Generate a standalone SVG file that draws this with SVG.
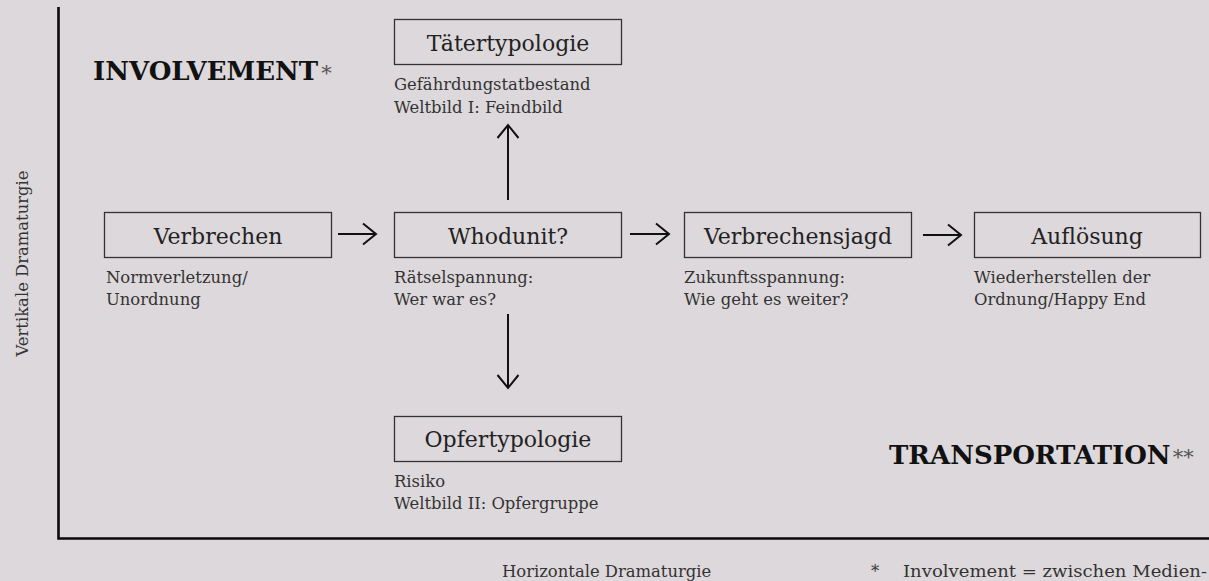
<svg xmlns="http://www.w3.org/2000/svg" width="1209" height="581" viewBox="0 0 1209 581">
<defs>
<style>
.box{fill:none;stroke:#333;stroke-width:1.3}
.lbl{font-family:"DejaVu Serif","Liberation Serif",serif;font-size:22px;fill:#222;text-anchor:middle}
.sub{font-family:"DejaVu Serif","Liberation Serif",serif;font-size:16.4px;fill:#333}
.big{font-family:"DejaVu Serif","Liberation Serif",serif;font-size:26px;font-weight:bold;fill:#111}
.ast{font-family:"DejaVu Serif","Liberation Serif",serif;font-size:21px;fill:#555}
.con{fill:none;stroke:#111;stroke-width:2}
.axis{fill:none;stroke:#0a0a0a;stroke-width:2.6}
</style>
<marker id="arr" markerUnits="userSpaceOnUse" viewBox="-15 -12 17 24" markerWidth="17" markerHeight="24" refX="0" refY="0" orient="auto">
<path d="M-13,-10.5 L0,0 L-13,10.5" fill="none" stroke="#111" stroke-width="2" stroke-linejoin="miter"/>
</marker>
</defs>
<rect width="1209" height="581" fill="#ddd8db"/>
<path class="axis" d="M58.5,7 V538.5 H1209"/>
<text class="sub" transform="translate(28,263.5) rotate(-90)" text-anchor="middle">Vertikale Dramaturgie</text>
<text class="sub" x="502" y="577">Horizontale Dramaturgie</text>
<text class="sub" x="871" y="577">*</text>
<text class="sub" x="903" y="577" textLength="304" lengthAdjust="spacingAndGlyphs">Involvement = zwischen Medien-</text>
<text x="93" y="80"><tspan class="big">INVOLVEMENT</tspan><tspan class="ast" dx="3">*</tspan></text>
<text x="889" y="464"><tspan class="big">TRANSPORTATION</tspan><tspan class="ast" dx="2">**</tspan></text>
<g id="connectors">
<path class="con" d="M338,234 H376" marker-end="url(#arr)"/>
<path class="con" d="M630,234 H669" marker-end="url(#arr)"/>
<path class="con" d="M923,235 H961" marker-end="url(#arr)"/>
<path class="con" d="M508,200 V125" marker-end="url(#arr)"/>
<path class="con" d="M508,314 V388" marker-end="url(#arr)"/>
</g>
<g id="taetertypologie">
<rect class="box" x="394.5" y="19.5" width="227" height="45"/>
<text class="lbl" x="508" y="51">Tätertypologie</text>
<text class="sub" x="394" y="90">Gefährdungstatbestand</text>
<text class="sub" x="394" y="113">Weltbild I: Feindbild</text>
</g>
<g id="verbrechen">
<rect class="box" x="104.5" y="212.5" width="227" height="45"/>
<text class="lbl" x="218" y="244">Verbrechen</text>
<text class="sub" x="106" y="283">Normverletzung/</text>
<text class="sub" x="106" y="305">Unordnung</text>
</g>
<g id="whodunit">
<rect class="box" x="394.5" y="212.5" width="227" height="45"/>
<text class="lbl" x="508" y="244">Whodunit?</text>
<text class="sub" x="394" y="283">Rätselspannung:</text>
<text class="sub" x="394" y="305">Wer war es?</text>
</g>
<g id="verbrechensjagd">
<rect class="box" x="684.5" y="212.5" width="227" height="45"/>
<text class="lbl" x="798" y="244">Verbrechensjagd</text>
<text class="sub" x="684" y="283">Zukunftsspannung:</text>
<text class="sub" x="684" y="305">Wie geht es weiter?</text>
</g>
<g id="aufloesung">
<rect class="box" x="974.5" y="212.5" width="226" height="45"/>
<text class="lbl" x="1087" y="244">Auflösung</text>
<text class="sub" x="974" y="283">Wiederherstellen der</text>
<text class="sub" x="974" y="305">Ordnung/Happy End</text>
</g>
<g id="opfertypologie">
<rect class="box" x="394.5" y="416.5" width="227" height="45"/>
<text class="lbl" x="508" y="447">Opfertypologie</text>
<text class="sub" x="394" y="487">Risiko</text>
<text class="sub" x="394" y="509">Weltbild II: Opfergruppe</text>
</g>
</svg>
